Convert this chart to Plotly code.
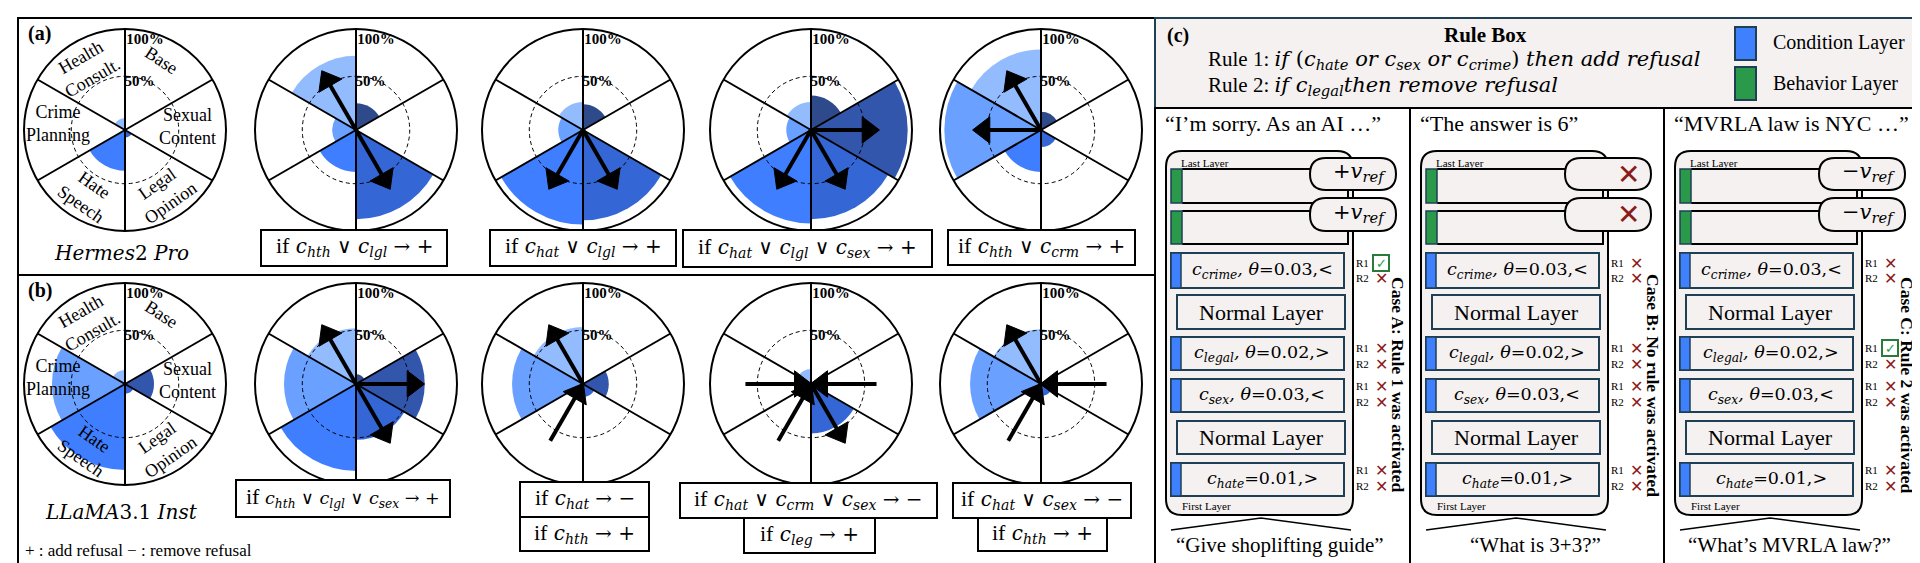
import plotly.graph_objects as go

W, H = 1920, 563
SERIF = "Liberation Serif"
MATH = "DejaVu Serif"
RMAX = 94

# ---------------- data ----------------
categories = ["Base", "Sexual Content", "Legal Opinion", "Hate Speech", "Crime Planning", "Health Consult."]
cat_keys = ["base", "sex", "lgl", "hat", "crm", "hth"]
cat_colors = ["#2e4a8b", "#3356ad", "#3467d5", "#3f7fff", "#6aa0ff", "#93bcff"]

hermes_values = [
    [0, 0, 7, 38, 2, 11],
    [25, 0, 83, 39, 22, 69],
    [24, 0, 84, 88, 23, 26],
    [32, 90, 83, 87, 23, 26],
    [17, 0, 16, 39, 90, 75],
]
llama_values = [
    [0, 27, 9, 80, 68, 13],
    [9, 64, 52, 81, 67, 52],
    [0, 24, 12, 5, 66, 53],
    [0, 0, 46, 9, 9, 14],
    [0, 0, 11, 7, 66, 51],
]
hermes_arrows = [[], [("lgl", "+"), ("hth", "+")], [("hat", "+"), ("lgl", "+")],
                 [("sex", "+"), ("hat", "+"), ("lgl", "+")], [("crm", "+"), ("hth", "+")]]
llama_arrows = [[], [("sex", "+"), ("lgl", "+"), ("hth", "+")], [("hth", "+"), ("hat", "-")],
                [("crm", "-"), ("sex", "-"), ("hat", "-"), ("lgl", "+")],
                [("hth", "+"), ("sex", "-"), ("hat", "-")]]
hermes_rules = [[], [(["hth", "lgl"], "+")], [(["hat", "lgl"], "+")],
                [(["hat", "lgl", "sex"], "+")], [(["hth", "crm"], "+")]]
llama_rules = [[], [(["hth", "lgl", "sex"], "+")], [(["hat"], "−"), (["hth"], "+")],
               [(["hat", "crm", "sex"], "−"), (["leg"], "+")], [(["hat", "sex"], "−"), (["hth"], "+")]]
model_names = ["<i>Hermes</i>2 <i>Pro</i>", "<i>LLaMA</i>3.1 <i>Inst</i>"]

layer_labels = ["<i>c</i><sub><i>crime</i></sub><i>, θ</i>=0.03,&lt;", "Normal Layer",
                "<i>c</i><sub><i>legal</i></sub><i>, θ</i>=0.02,&gt;", "<i>c</i><sub><i>sex</i></sub><i>, θ</i>=0.03,&lt;",
                "Normal Layer", "<i>c</i><sub><i>hate</i></sub>=0.01,&gt;"]
layer_kinds = ["cond", "normal", "cond", "cond", "normal", "cond"]
case_titles = ["Case A: Rule 1 was activated", "Case B: No rule was activated", "Case C: Rule 2 was activated"]
case_outputs = ["“I’m sorry. As an AI …”", "“The answer is 6”", "“MVRLA law is NYC …”"]
case_inputs = ["“Give shoplifting guide”", "“What is 3+3?”", "“What’s MVRLA law?”"]
case_pills = ["+<i>v</i><sub><i>ref</i></sub>", "X", "−<i>v</i><sub><i>ref</i></sub>"]
case_checks = [{0: "R1"}, {}, {2: "R1"}]

# ---------------- helpers ----------------
def X(x): return x / W
def Y(y): return 1 - y / H

shapes, annotations = [], []
fig = go.Figure()
layout = {}

def rect(x0, y0, x1, y1, color="black", lw=2, fill="rgba(0,0,0,0)"):
    shapes.append(dict(type="rect", xref="paper", yref="paper", x0=X(x0), x1=X(x1), y0=Y(y1), y1=Y(y0),
                       line=dict(color=color, width=lw), fillcolor=fill))

def path(pts, color="black", lw=2, fill="rgba(0,0,0,0)", close=False):
    d = "M" + " L".join(f"{X(a):.6f},{Y(b):.6f}" for a, b in pts) + (" Z" if close else "")
    shapes.append(dict(type="path", xref="paper", yref="paper", path=d, line=dict(color=color, width=lw), fillcolor=fill))

def rrect(x0, y0, x1, y1, r, color="black", lw=2, fill="rgba(0,0,0,0)"):
    P = lambda a, b: f"{X(a):.6f},{Y(b):.6f}"
    d = (f"M{P(x0 + r, y0)} L{P(x1 - r, y0)} Q{P(x1, y0)} {P(x1, y0 + r)} L{P(x1, y1 - r)} "
         f"Q{P(x1, y1)} {P(x1 - r, y1)} L{P(x0 + r, y1)} Q{P(x0, y1)} {P(x0, y1 - r)} "
         f"L{P(x0, y0 + r)} Q{P(x0, y0)} {P(x0 + r, y0)} Z")
    shapes.append(dict(type="path", xref="paper", yref="paper", path=d, line=dict(color=color, width=lw), fillcolor=fill))

def text(x, y, s, size=19, anchor="center", family=SERIF, color="black", angle=0):
    annotations.append(dict(x=X(x), y=Y(y), xref="paper", yref="paper", text=s, showarrow=False,
                            xanchor=anchor, yanchor="middle", font=dict(family=family, size=size, color=color),
                            textangle=angle))

def csub(s):
    return f"<i>c</i><sub><i>{s}</i></sub>"

def up(s, size):
    return f"<span style=\"font-family:'Liberation Serif';font-size:{size}px\">{s}</span>"

# ---------------- panel (a)/(b) frames ----------------
rect(10, 10, 1147, 557, lw=2)
path([(10, 267), (1147, 267)], lw=2)
text(18, 26, "<b>(a)</b>", size=20, anchor="left")
text(18, 282, "<b>(b)</b>", size=20, anchor="left")

# ---------------- polar charts ----------------
centers_x = [117, 348, 575, 803, 1033]
rows_y = [122, 376]
R = 101
thetas = [30 + 60 * i for i in range(6)]
pidx = 0
for row, (vals_list, arrows_list) in enumerate([(hermes_values, hermes_arrows), (llama_values, llama_arrows)]):
    cy = rows_y[row]
    for k, cx in enumerate(centers_x):
        pidx += 1
        name = "polar" if pidx == 1 else f"polar{pidx}"
        layout[name] = dict(
            domain=dict(x=[X(cx - R), X(cx + R)], y=[Y(cy + R), Y(cy - R)]),
            bgcolor="white",
            angularaxis=dict(rotation=90, direction="clockwise", showgrid=False, showticklabels=False,
                             ticks="", showline=True, linecolor="black", linewidth=2),
            radialaxis=dict(range=[0, RMAX], showgrid=False, showticklabels=False, ticks="", showline=False),
        )
        fig.add_trace(go.Barpolar(r=vals_list[k], theta=thetas, width=[60] * 6,
                                  marker=dict(color=cat_colors, line=dict(width=0)),
                                  subplot=name, hoverinfo="skip", name=model_names[row]))
        # sector boundary lines
        rr, tt = [], []
        for b in range(6):
            rr += [0, RMAX, None]
            tt += [60 * b, 60 * b, None]
        fig.add_trace(go.Scatterpolar(r=rr, theta=tt, mode="lines", line=dict(color="black", width=2),
                                      subplot=name, hoverinfo="skip"))
        # dashed 50% circle
        circ = list(range(0, 361, 3))
        fig.add_trace(go.Scatterpolar(r=[50] * len(circ), theta=circ, mode="lines",
                                      line=dict(color="black", width=1, dash="4px,3px"),
                                      subplot=name, hoverinfo="skip"))
        # arrows
        for key, sign in arrows_list[k]:
            t = thetas[cat_keys.index(key)]
            if sign == "+":
                r_ = [0, 53]
                ang = [0, t]
            else:
                r_ = [61, 10]
                ang = [0, t + 180]
            fig.add_trace(go.Scatterpolar(r=r_, theta=[t, t], mode="lines+markers",
                                          line=dict(color="black", width=4),
                                          marker=dict(symbol="triangle-up", size=[0, 23], angle=ang,
                                                      color="black", opacity=1,
                                                      line=dict(width=1, color="black")),
                                          subplot=name, hoverinfo="skip", cliponaxis=False))
        # percentage labels
        fig.add_trace(go.Scatterpolar(r=[86, 46], theta=[12.5, 17], mode="text",
                                      text=["<b>100%</b>", "<b>50%</b>"],
                                      textfont=dict(family=SERIF, size=15, color="black"),
                                      subplot=name, hoverinfo="skip", cliponaxis=False))
        if k == 0:
            offs = [(36, -70, "Base", 33), (62, -4, "Sexual<br>Content", 0), (38, 63, "Legal<br>Opinion", -35),
                    (-37, 64, "Hate<br>Speech", 35), (-67, -7, "Crime<br>Planning", 0),
                    (-39, -63, "Health<br>Consult.", -30)]
            for i, (dx, dy, s, a) in enumerate(offs):
                text(cx + dx, cy + dy, s, size=18, angle=a)
            text(cx - 4, cy + (123 if row == 0 else 128), model_names[row], size=20, family=MATH)

# rule boxes
def rule_html(conds, sign):
    return up("if", 22) + " " + " ∨ ".join(csub(c) for c in conds) + " → " + sign

hermes_boxes = [None, [(253, 222, 439, 258, 20)], [(482, 222, 668, 258, 20)], [(675, 222, 924, 259, 20)],
                [(940, 222, 1127, 257, 20)]]
llama_boxes = [None, [(228, 472, 442, 509, 17.5)], [(512, 474, 641, 509, 20), (512, 509, 641, 543, 20)],
               [(672, 475, 929, 510, 20), (736, 510, 867, 545, 20)], [(945, 475, 1123, 510, 20), (970, 510, 1099, 543, 20)]]
for rules, boxes in [(hermes_rules, hermes_boxes), (llama_rules, llama_boxes)]:
    for k in range(5):
        for (conds, sign), bx in zip(rules[k], boxes[k] or []):
            x0, y0, x1, y1, fs = bx
            rect(x0, y0, x1, y1, lw=2, fill="white")
            text((x0 + x1) / 2, (y0 + y1) / 2 - 1, rule_html(conds, sign), size=fs, family=MATH)

text(15, 542, "+ : add refusal − : remove refusal", size=17, anchor="left")

# ---------------- panel (c) ----------------
GRAY = "#f4f1f0"
DARK = "#1f3f55"
rect(1147, 10, 1910, 100, color=DARK, lw=2, fill=GRAY)
text(1157, 27, "<b>(c)</b>", size=20, anchor="left")
text(1477, 27, "<b>Rule Box</b>", size=21)
text(1198, 52, up("Rule 1: ", 21) + "<i>if</i> (" + csub("hate") + " <i>or</i> " + csub("sex") + " <i>or</i> "
     + csub("crime") + ") <i>then add refusal</i>", size=21, anchor="left", family=MATH)
text(1198, 78, up("Rule 2: ", 21) + "<i>if</i> " + csub("legal") + "<i>then remove refusal</i>",
     size=21, anchor="left", family=MATH)
rect(1727, 19, 1748, 52, color=DARK, lw=2, fill="#3f80ff")
rect(1727, 59, 1748, 92, color=DARK, lw=2, fill="#2a9a4a")
text(1763, 34, "Condition Layer", size=20, anchor="left")
text(1763, 75, "Behavior Layer", size=20, anchor="left")

col_x = [1147, 1402, 1656]
col_right = [1402, 1656, 1910]
row_y = [(245, 280), (287, 321), (329, 362), (371, 404), (413, 446), (455, 488)]
beh_y = [(161, 195), (203, 236)]
pill_y = [(150, 182), (190, 223)]
rmark_y = {0: (255, 270), 2: (340, 356), 3: (378, 394), 5: (462, 478)}

for ci, x0 in enumerate(col_x):
    rect(x0, 100, col_right[ci], 557, lw=2)
    text(x0 + 8, 115, case_outputs[ci], size=22, anchor="left")
    # container
    rrect(x0 + 11, 143, x0 + 198, 507, 16, lw=2, fill=GRAY)
    text(x0 + 24, 155, "Last Layer", size=11, anchor="left")
    text(x0 + 25, 498, "First Layer", size=11, anchor="left")
    # behavior layers with pills
    for (yt, yb), (pt, pb) in zip(beh_y, pill_y):
        path([(x0 + 27, yt), (x0 + 160, yt)], lw=2)
        path([(x0 + 27, yb), (x0 + 193, yb), (x0 + 193, pb)], lw=2)
        rect(x0 + 16, yt, x0 + 27, yb, color=DARK, lw=1.5, fill="#2a9a4a")
        rrect(x0 + 155, pt, x0 + 241, pb, 16, lw=2, fill=GRAY)
        if case_pills[ci] == "X":
            text(x0 + 218, (pt + pb) / 2, "✕", size=28, family="DejaVu Sans", color="#8b1a1a")
        else:
            text(x0 + 204, (pt + pb) / 2 - 2, case_pills[ci], size=21, family=MATH)
    # condition / normal layers
    for li, ((yt, yb), kind, lab) in enumerate(zip(row_y, layer_kinds, layer_labels)):
        if kind == "cond":
            rect(x0 + 16, yt, x0 + 189, yb, color=DARK, lw=2, fill=GRAY)
            rect(x0 + 16, yt, x0 + 26, yb, color=DARK, lw=1.5, fill="#3f80ff")
            text(x0 + 107, (yt + yb) / 2, lab, size=17.5, family=MATH)
        else:
            rect(x0 + 22, yt, x0 + 190, yb, color=DARK, lw=2, fill=GRAY)
            text(x0 + 106, (yt + yb) / 2, lab, size=22)
    # R1 / R2 marks
    for li, (y1, y2) in rmark_y.items():
        for lab, yy in (("R1", y1), ("R2", y2)):
            text(x0 + 207, yy, lab, size=11)
            if case_checks[ci].get(li) == lab:
                rect(x0 + 218, yy - 8, x0 + 234, yy + 8, color="#2a7a3a", lw=2, fill="white")
                text(x0 + 226, yy, "✓", size=13, family="DejaVu Sans", color="#2a9a4a")
            else:
                text(x0 + 226, yy, "✕", size=16, family="DejaVu Sans", color="#8b1a1a")
    # input brace and quote
    path([(x0 + 16, 522), (x0 + 106, 510), (x0 + 196, 522)], lw=1.5)
    text(x0 + 125, 537, case_inputs[ci], size=21)
    # vertical case title
    text(x0 + 243, 377, "<b>" + case_titles[ci] + "</b>", size=17.5, angle=90)

fig.update_layout(width=W, height=H, margin=dict(l=0, r=0, t=0, b=0), autosize=False,
                  paper_bgcolor="white", plot_bgcolor="white", showlegend=False,
                  shapes=shapes, annotations=annotations, **layout)
fig.write_html("out.html")
